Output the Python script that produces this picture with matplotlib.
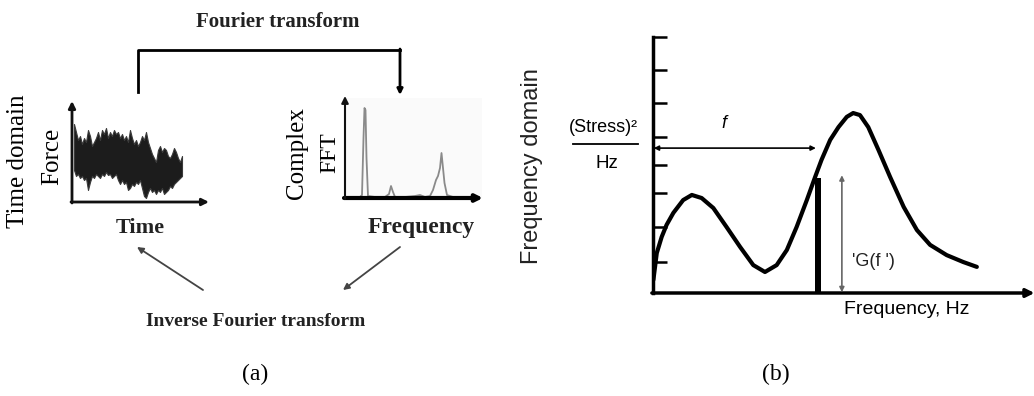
import matplotlib
matplotlib.use("Agg")
import matplotlib.pyplot as plt

W, H = 1034, 396

# time-domain force record: upper / lower envelope of the noisy band
t_samples = [2, 4, 6, 8, 10, 12, 14, 16, 18, 20, 22, 24, 26, 28, 30, 32, 34, 36, 38, 40,
             42, 44, 46, 48, 50, 52, 54, 56, 58, 60, 62, 64, 66, 68, 70, 72, 74, 76, 78, 80,
             82, 84, 86, 88, 90, 92, 94, 96, 98, 100, 102, 104, 106, 108, 110]
force_hi = [78, 70, 62, 66, 58, 64, 60, 72, 66, 56, 60, 64, 70, 62, 72, 68, 74, 64, 70, 66,
            72, 68, 70, 64, 68, 62, 66, 60, 72, 64, 58, 62, 56, 60, 66, 62, 70, 60, 54, 48,
            44, 40, 52, 56, 50, 54, 52, 46, 44, 48, 54, 50, 44, 40, 46]
force_lo = [32, 26, 28, 24, 26, 22, 24, 12, 20, 26, 24, 28, 26, 24, 28, 26, 30, 27, 28, 24,
            26, 28, 22, 18, 22, 18, 20, 12, 14, 18, 16, 20, 18, 22, 14, 6, 4, 10, 14, 10,
            12, 8, 12, 10, 14, 8, 10, 12, 16, 14, 18, 20, 22, 24, 26]

# complex FFT magnitude
fft_freq = [0, 15, 17, 18.5, 19.5, 20.5, 21.5, 23, 30, 40, 44, 46, 48, 50, 60, 70, 75, 80,
            85, 88, 91, 93, 95, 96.5, 98, 99.5, 102, 108, 130]
fft_amp = [1, 1, 3, 60, 90, 88, 40, 2, 1, 1, 4, 12, 6, 1, 1, 2, 3, 1,
           2, 8, 18, 22, 30, 45, 30, 15, 3, 1, 1]

# power spectral density curve
psd_freq = [0.1, 1.0, 2.3, 3.6, 5.4, 8.0, 10.3, 12.9, 16.0, 19.5, 23.1, 26.6, 29.7, 32.8,
            35.5, 38.1, 40.8, 43.0, 44.7, 47.0, 49.2, 51.4, 53.1, 54.9, 57.1, 59.8, 62.9,
            66.5, 70.0, 73.5, 77.9, 82.3, 85.9]
psd_val = [5.1, 15.6, 21.9, 26.6, 31.3, 36.3, 38.3, 37.1, 33.2, 25.8, 18.0, 10.9, 8.2, 10.9,
           16.8, 25.8, 36.3, 45.3, 52.0, 59.8, 64.8, 68.8, 70.3, 69.5, 64.8, 55.9, 45.3,
           33.6, 24.6, 18.8, 14.8, 12.1, 10.2]
psd_ticks = [12.1, 25.8, 39.1, 50, 60.9, 74.2, 87.1, 100]
f_star = 43.8
g_star = 45


def px_axes(x0, y0, x1, y1):
    a = fig.add_axes([x0 / W, 1 - y1 / H, (x1 - x0) / W, (y1 - y0) / H])
    a.patch.set_alpha(0)
    return a


fig = plt.figure(figsize=(W / 100, H / 100), dpi=100)
ov = fig.add_axes([0, 0, 1, 1])
ov.set_xlim(0, W)
ov.set_ylim(H, 0)
ov.axis("off")
ov.set_zorder(10)

serif = "Liberation Serif"
sans = "Liberation Sans"

# ---------------- (a) ----------------
ov.text(278, 22, "Fourier transform", family=serif, weight="bold", fontsize=15,
        ha="center", va="center", color="#222")
ov.plot([138, 138, 400], [92, 50, 50], color="black", lw=2)
ov.annotate("", xy=(400, 95), xytext=(400, 49),
            arrowprops=dict(arrowstyle="-|>", lw=2, color="black", mutation_scale=8,
                            shrinkA=0, shrinkB=0))

# time plot
ta = px_axes(72, 103, 208, 202)
ta.fill_between(t_samples, force_lo, force_hi, color="#1c1c1c", lw=0.8, edgecolor="#3a3a3a")
ta.set_xlim(0, 136)
ta.set_ylim(0, 99)
ta.axis("off")
ov.annotate("", xy=(209, 202), xytext=(71, 202),
            arrowprops=dict(arrowstyle="-|>", lw=2, color="#111", mutation_scale=10,
                            shrinkA=0, shrinkB=0))
ov.annotate("", xy=(72, 101), xytext=(72, 203),
            arrowprops=dict(arrowstyle="-|>", lw=2, color="#111", mutation_scale=10,
                            shrinkA=0, shrinkB=0))
ov.text(18, 161, "Time domain", family=serif, fontsize=18, rotation=90,
        ha="center", va="center")
ov.text(52, 156, "Force", family=serif, fontsize=18, rotation=90,
        ha="center", va="center")
ov.text(140, 228, "Time", family=serif, weight="bold", fontsize=16,
        ha="center", va="center", color="#222")

# FFT plot
fa = px_axes(345, 98, 482, 198)
fa.patch.set_alpha(1)
fa.set_facecolor("#fafafa")
fa.plot(fft_freq, fft_amp, color="#8a8a8a", lw=1.3)
fa.set_xlim(0, 137)
fa.set_ylim(0, 100)
for s in fa.spines.values():
    s.set_visible(False)
fa.set_xticks([])
fa.set_yticks([])
ov.annotate("", xy=(483, 198), xytext=(344, 198),
            arrowprops=dict(arrowstyle="-|>", lw=3, color="black", mutation_scale=10,
                            shrinkA=0, shrinkB=0))
ov.annotate("", xy=(345, 96), xytext=(345, 199),
            arrowprops=dict(arrowstyle="-|>", lw=1.5, color="#111", mutation_scale=10,
                            shrinkA=0, shrinkB=0))
ov.text(297, 153, "Complex", family=serif, fontsize=18, rotation=90,
        ha="center", va="center")
ov.text(330, 153, "FFT", family=serif, fontsize=17, rotation=90,
        ha="center", va="center")
ov.text(421, 228, "Frequency", family=serif, weight="bold", fontsize=17,
        ha="center", va="center", color="#222")

# inverse arrows
ov.annotate("", xy=(137, 247), xytext=(203, 290),
            arrowprops=dict(arrowstyle="-|>", lw=1.3, color="#444", mutation_scale=9,
                            shrinkA=0, shrinkB=0))
ov.annotate("", xy=(343, 290), xytext=(400, 247),
            arrowprops=dict(arrowstyle="-|>", lw=1.3, color="#444", mutation_scale=9,
                            shrinkA=0, shrinkB=0))
ov.text(256, 322, "Inverse Fourier transform", family=serif, weight="bold", fontsize=14,
        ha="center", va="center", color="#222")

ov.text(255, 374, "(a)", family=serif, fontsize=17, ha="center", va="center")
ov.text(776, 374, "(b)", family=serif, fontsize=17, ha="center", va="center")

# ---------------- (b) ----------------
pa = px_axes(653, 37, 1030, 293)
pa.plot(psd_freq, psd_val, color="black", lw=3, solid_capstyle="round")
pa.bar([f_star], [g_star], width=1.4, color="black")
pa.set_xlim(0, 100)
pa.set_ylim(0, 100)
for side in ("top", "right", "bottom"):
    pa.spines[side].set_visible(False)
pa.spines["left"].set_linewidth(2.5)
pa.set_yticks(psd_ticks)
pa.set_yticklabels([])
pa.set_xticks([])
pa.tick_params(axis="y", direction="in", length=10, width=1.8)
pa.annotate("", xy=(101.2, 0), xytext=(-0.3, 0), xycoords="data",
            arrowprops=dict(arrowstyle="-|>", lw=2.5, color="black", mutation_scale=12,
                            shrinkA=0, shrinkB=0), annotation_clip=False)
pa.annotate("", xy=(f_star - 0.6, 56.6), xytext=(0.2, 56.6),
            arrowprops=dict(arrowstyle="<|-|>", lw=1.2, color="black", mutation_scale=7,
                            shrinkA=0, shrinkB=0), annotation_clip=False)
pa.annotate("", xy=(50.1, 46), xytext=(50.1, 0.3),
            arrowprops=dict(arrowstyle="<|-|>", lw=1.2, color="#666", mutation_scale=7,
                            shrinkA=0, shrinkB=0), annotation_clip=False)

ov.text(603, 128, "(Stress)²", family=sans, fontsize=13, ha="center", va="center")
ov.plot([573, 638], [144, 144], color="black", lw=1.3)
ov.text(607, 163, "Hz", family=sans, fontsize=13.5, ha="center", va="center")
ov.text(724, 124, "f", family=sans, style="italic", fontsize=13, ha="center", va="center")
ov.text(873, 262, "'G(f ')", family=sans, fontsize=13, ha="center", va="center", color="#222")
ov.text(532, 166, "Frequency domain", family=sans, fontsize=17, rotation=90,
        ha="center", va="center", color="#222")
ov.text(907, 310, "Frequency, Hz", family=sans, fontsize=14, ha="center", va="center")

fig.savefig("out.png", dpi=100)
